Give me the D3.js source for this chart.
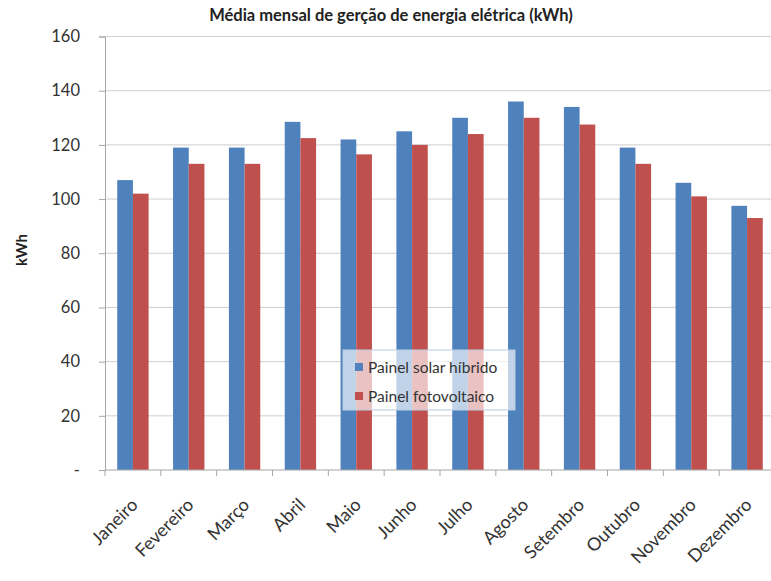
<!DOCTYPE html>
<html>
<head>
<meta charset="utf-8">
<script src="https://cdn.jsdelivr.net/npm/d3@7"></script>
<style>
  html, body { margin: 0; padding: 0; background: #fff; }
  svg { display: block; font-family: Lato, "Liberation Sans", sans-serif; }
</style>
</head>
<body>
<svg id="chart" width="771" height="581"></svg>
<script>
// Monthly electricity generation (kWh) for two panel types
const months = ["Janeiro", "Fevereiro", "Março", "Abril", "Maio", "Junho",
                "Julho", "Agosto", "Setembro", "Outubro", "Novembro", "Dezembro"];
const hibrido = [107, 119, 119, 128.5, 122, 125, 130, 136, 134, 119, 106, 97.5];
const fotovoltaico = [102, 113, 113, 122.5, 116.5, 120, 124, 130, 127.5, 113, 101, 93];
const seriesNames = ["Painel solar híbrido", "Painel fotovoltaico"];
const yTicks = [0, 20, 40, 60, 80, 100, 120, 140, 160];
const colors = ["#4F81BD", "#C0504D"];

const svg = d3.select("#chart");
const plot = { left: 105, right: 775, top: 36.5, bottom: 470 };

const x = d3.scaleBand().domain(months).range([plot.left, plot.right]).padding(0);
const x1 = d3.scaleBand().domain([0, 1]).range([0, x.bandwidth()])
  .paddingInner(0).paddingOuter(0.78);
const y = d3.scaleLinear().domain([0, 160]).range([plot.bottom, plot.top]);

// Title
svg.append("text")
  .attr("x", 391).attr("y", 21)
  .attr("text-anchor", "middle")
  .attr("font-weight", "bold").attr("font-size", 16.5)
  .attr("fill", "#222")
  .text("Média mensal de gerção de energia elétrica (kWh)");

// Horizontal gridlines
svg.append("g").selectAll("line")
  .data(yTicks.filter(d => d > 0))
  .join("line")
  .attr("x1", plot.left).attr("x2", plot.right)
  .attr("y1", d => y(d)).attr("y2", d => y(d))
  .attr("stroke", "#cfcfcf").attr("stroke-width", 1);

// Bars
const groups = svg.append("g").selectAll("g")
  .data(months.map((m, i) => ({ m, vals: [hibrido[i], fotovoltaico[i]] })))
  .join("g")
  .attr("transform", d => `translate(${x(d.m)},0)`);

groups.selectAll("rect")
  .data(d => d.vals.map((v, k) => ({ v, k })))
  .join("rect")
  .attr("x", d => x1(d.k))
  .attr("width", x1.bandwidth())
  .attr("y", d => y(d.v))
  .attr("height", d => y(0) - y(d.v))
  .attr("fill", d => colors[d.k]);

// Y axis
const yAxis = d3.axisLeft(y)
  .tickValues(yTicks)
  .tickSize(6)
  .tickPadding(19)
  .tickFormat(d => d === 0 ? "-" : d);
const yg = svg.append("g")
  .attr("transform", `translate(${plot.left},0)`)
  .call(yAxis);
yg.select(".domain").attr("stroke", "#a6a6a6");
yg.selectAll(".tick line").attr("stroke", "#a6a6a6");
yg.selectAll(".tick text")
  .attr("font-size", 16.5).attr("fill", "#333")
  .attr("font-family", "Lato, sans-serif");

// X axis
const xg = svg.append("g")
  .attr("transform", `translate(0,${plot.bottom})`);
xg.append("line")
  .attr("x1", plot.left).attr("x2", plot.right)
  .attr("stroke", "#a6a6a6");
xg.selectAll("line.tick")
  .data(months.concat(["end"]))
  .join("line")
  .attr("class", "tick")
  .attr("x1", (d, i) => plot.left + i * x.step())
  .attr("x2", (d, i) => plot.left + i * x.step())
  .attr("y1", 0).attr("y2", 6)
  .attr("stroke", "#a6a6a6");
xg.selectAll("text")
  .data(months)
  .join("text")
  .attr("transform", d => `translate(${x(d) + x.bandwidth() / 2 + 6},${36}) rotate(-45)`)
  .attr("text-anchor", "end")
  .attr("font-size", 18).attr("fill", "#333")
  .text(d => d);

// Y axis title
svg.append("text")
  .attr("transform", `translate(27,250) rotate(-90)`)
  .attr("text-anchor", "middle")
  .attr("font-weight", "bold").attr("font-size", 15)
  .attr("fill", "#222")
  .text("kWh");

// Legend
const lg = svg.append("g").attr("transform", "translate(343,350)");
lg.append("rect")
  .attr("width", 172).attr("height", 60)
  .attr("fill", "#fff").attr("fill-opacity", 0.65)
  .attr("stroke", "#b9cde5").attr("stroke-width", 1);
seriesNames.forEach((name, i) => {
  const row = lg.append("g").attr("transform", `translate(12,${17 + i * 29})`);
  row.append("rect")
    .attr("x", 0).attr("y", -4).attr("width", 8).attr("height", 8)
    .attr("fill", colors[i]);
  row.append("text")
    .attr("x", 13).attr("y", 5.5)
    .attr("font-size", 15.5).attr("fill", "#333")
    .text(name);
});
</script>
</body>
</html>
